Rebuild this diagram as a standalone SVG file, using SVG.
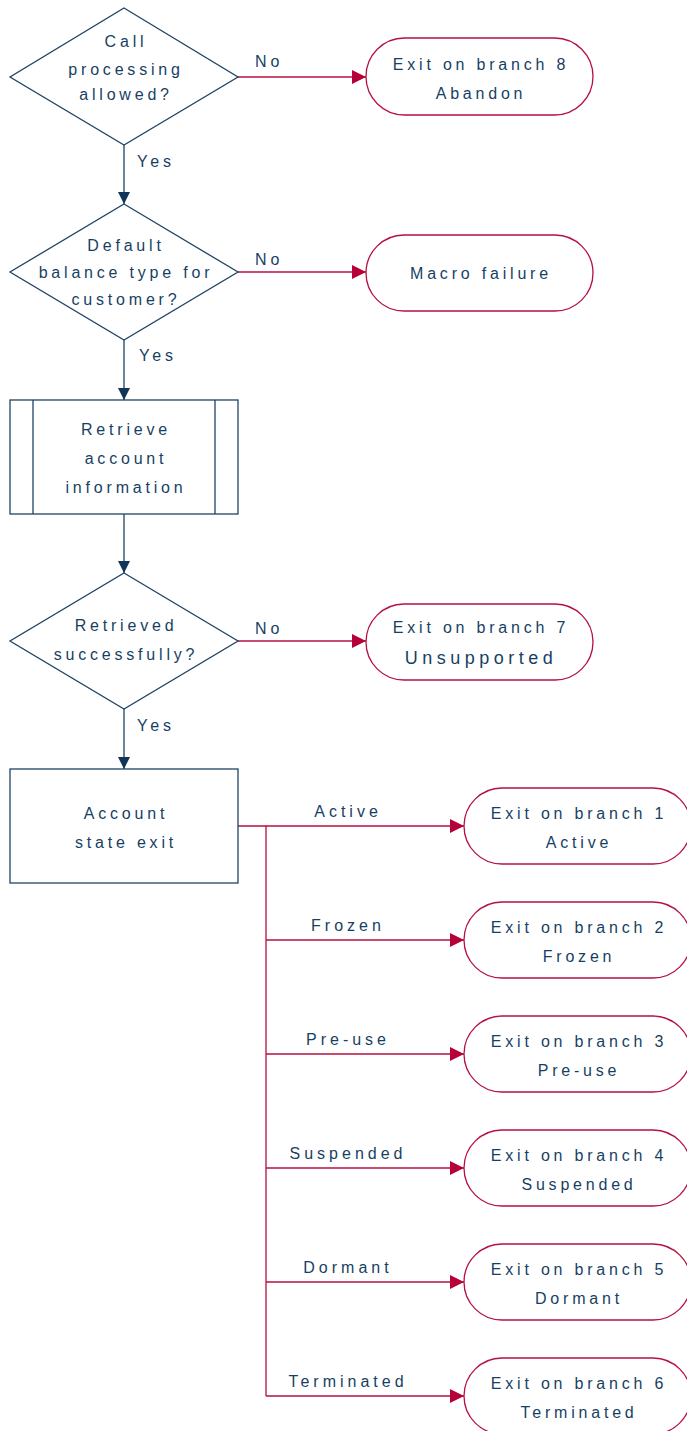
<svg xmlns="http://www.w3.org/2000/svg" width="687" height="1431" viewBox="0 0 687 1431">
<style>
text{font-family:"Liberation Sans",Arial,sans-serif;fill:#173f63;}
.t{font-size:16px;letter-spacing:3.8px;text-anchor:middle;}
.big{font-size:18px;letter-spacing:4.5px;text-anchor:middle;}
.l{font-size:16px;letter-spacing:4px;}
.lc{font-size:16px;letter-spacing:4px;text-anchor:middle;}
.n{fill:#fff;stroke:#1f4466;stroke-width:1.3;}
.term{fill:#fff;stroke:#b5103f;stroke-width:1.3;}
.blue{stroke:#1f4466;stroke-width:1.3;fill:none;}
.red{stroke:#b5103f;stroke-width:1.3;fill:none;}
</style>
<defs>
<marker id="ab" markerWidth="12" markerHeight="12" refX="12" refY="6" orient="auto" markerUnits="userSpaceOnUse"><path d="M0,0 L12,6 L0,12 Z" fill="#0f3658"/></marker>
<marker id="ar" markerWidth="14" markerHeight="14" refX="14" refY="7" orient="auto" markerUnits="userSpaceOnUse"><path d="M0,0 L14,7 L0,14 Z" fill="#b5003a"/></marker>
</defs>
<g id="connectors">
<path class="blue" d="M124,145 V204" marker-end="url(#ab)"/>
<path class="blue" d="M124,340 V400" marker-end="url(#ab)"/>
<path class="blue" d="M124,514 V573" marker-end="url(#ab)"/>
<path class="blue" d="M124,709 V769" marker-end="url(#ab)"/>
<path class="red" d="M238,77 H366" marker-end="url(#ar)"/>
<path class="red" d="M238,272 H366" marker-end="url(#ar)"/>
<path class="red" d="M238,641 H366" marker-end="url(#ar)"/>
<path class="red" d="M238,826 H266 V1396"/>
<path class="red" d="M266,826 H464" marker-end="url(#ar)"/>
<path class="red" d="M266,940 H464" marker-end="url(#ar)"/>
<path class="red" d="M266,1054 H464" marker-end="url(#ar)"/>
<path class="red" d="M266,1168 H464" marker-end="url(#ar)"/>
<path class="red" d="M266,1282 H464" marker-end="url(#ar)"/>
<path class="red" d="M266,1396 H464" marker-end="url(#ar)"/>
<text class="l" x="255" y="67">No</text>
<text class="l" x="137" y="167">Yes</text>
<text class="l" x="255" y="265">No</text>
<text class="l" x="139" y="361">Yes</text>
<text class="l" x="255" y="634">No</text>
<text class="l" x="137" y="731">Yes</text>
<text class="lc" x="348" y="817">Active</text>
<text class="lc" x="348" y="931">Frozen</text>
<text class="lc" x="348" y="1045">Pre-use</text>
<text class="lc" x="348" y="1159">Suspended</text>
<text class="lc" x="348" y="1273">Dormant</text>
<text class="lc" x="348" y="1387">Terminated</text>
</g>
<g id="d1">
<path class="n" d="M124,8 L238,77 L124,145 L10,77 Z"/>
<text class="t" x="126" y="47">Call</text>
<text class="t" x="126" y="75">processing</text>
<text class="t" x="126" y="100">allowed?</text>
</g>
<g id="t8">
<rect class="term" x="366" y="38" width="227" height="77" rx="38.5"/>
<text class="t" x="481" y="70">Exit on branch 8</text>
<text class="t" x="481" y="99">Abandon</text>
</g>
<g id="d2">
<path class="n" d="M124,204 L238,272 L124,340 L10,272 Z"/>
<text class="t" x="126" y="251">Default</text>
<text class="t" x="126" y="278">balance type for</text>
<text class="t" x="126" y="305">customer?</text>
</g>
<g id="tm">
<rect class="term" x="366" y="235" width="227" height="76" rx="38"/>
<text class="t" x="481" y="279">Macro failure</text>
</g>
<g id="p1">
<rect class="n" x="10" y="400" width="228" height="114"/>
<path class="blue" d="M33,400 V514 M215,400 V514"/>
<text class="t" x="126" y="435">Retrieve</text>
<text class="t" x="126" y="464">account</text>
<text class="t" x="126" y="493">information</text>
</g>
<g id="d3">
<path class="n" d="M124,573 L238,641 L124,709 L10,641 Z"/>
<text class="t" x="126" y="631">Retrieved</text>
<text class="t" x="126" y="660">successfully?</text>
</g>
<g id="t7">
<rect class="term" x="366" y="604" width="227" height="76" rx="38"/>
<text class="t" x="481" y="633">Exit on branch 7</text>
<text class="big" x="481" y="664">Unsupported</text>
</g>
<g id="p2">
<rect class="n" x="10" y="769" width="228" height="114"/>
<text class="t" x="126" y="819">Account</text>
<text class="t" x="126" y="848">state exit</text>
</g>
<g id="t1">
<rect class="term" x="464" y="788" width="227" height="76" rx="38"/>
<text class="t" x="579" y="819">Exit on branch 1</text>
<text class="t" x="579" y="848">Active</text>
</g>
<g id="t2">
<rect class="term" x="464" y="902" width="227" height="76" rx="38"/>
<text class="t" x="579" y="933">Exit on branch 2</text>
<text class="t" x="579" y="962">Frozen</text>
</g>
<g id="t3">
<rect class="term" x="464" y="1016" width="227" height="76" rx="38"/>
<text class="t" x="579" y="1047">Exit on branch 3</text>
<text class="t" x="579" y="1076">Pre-use</text>
</g>
<g id="t4">
<rect class="term" x="464" y="1130" width="227" height="76" rx="38"/>
<text class="t" x="579" y="1161">Exit on branch 4</text>
<text class="t" x="579" y="1190">Suspended</text>
</g>
<g id="t5">
<rect class="term" x="464" y="1244" width="227" height="76" rx="38"/>
<text class="t" x="579" y="1275">Exit on branch 5</text>
<text class="t" x="579" y="1304">Dormant</text>
</g>
<g id="t6">
<rect class="term" x="464" y="1358" width="227" height="76" rx="38"/>
<text class="t" x="579" y="1389">Exit on branch 6</text>
<text class="t" x="579" y="1418">Terminated</text>
</g>
</svg>
